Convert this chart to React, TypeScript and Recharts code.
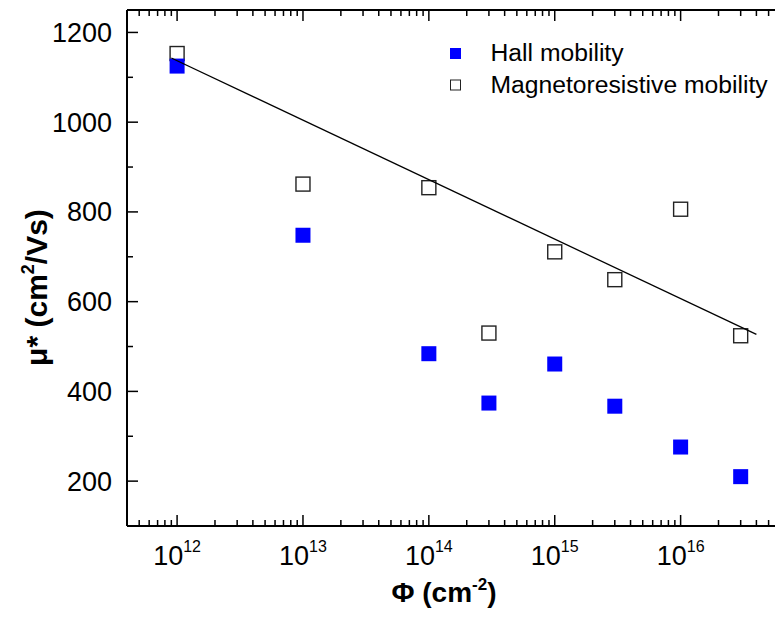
import React from 'react';
import { ScatterChart, Scatter, XAxis, YAxis, Legend, Label } from 'recharts';

const FONT = '"Liberation Sans", Arial, Helvetica, sans-serif';

// Fluence values (cm^-2)
const FLUENCE = [1e12, 1e13, 1e14, 3e14, 1e15, 3e15, 1e16, 3e16];
// Hall mobility (cm^2/Vs)
const HALL_MU = [1125, 748, 484, 374, 461, 367, 276, 210];
// Magnetoresistive mobility (cm^2/Vs)
const MR_MU = [1153, 862, 854, 530, 711, 649, 806, 524];
// Linear fit (in log x) through magnetoresistive mobility
const FIT_X = [9e11, 4e16];
const FIT_MU = [1143, 527];

const SERIES_NAMES = ['Hall mobility', 'Magnetoresistive mobility'];

const X_DOMAIN = [4e11, 7e16];
const Y_DOMAIN = [100, 1250];
const X_MAJOR = [1e12, 1e13, 1e14, 1e15, 1e16];
const X_MINOR_MULT = [2, 3, 4, 5, 6, 7, 8, 9];
const X_MINOR_LEAD = [5e11, 6e11, 7e11, 8e11, 9e11];
const X_MINOR_TAIL = [2e16, 3e16, 4e16, 5e16, 6e16];
const Y_MAJOR = [200, 400, 600, 800, 1000, 1200];
const Y_MINOR = [300, 500, 700, 900, 1100];

const X_TICKS: number[] = [
  ...X_MINOR_LEAD,
  ...X_MAJOR,
  ...X_MAJOR.slice(0, 4).flatMap((d) => X_MINOR_MULT.map((m) => m * d)),
  ...X_MINOR_TAIL,
].sort((a, b) => a - b);
const Y_TICKS: number[] = [...Y_MAJOR, ...Y_MINOR].sort((a, b) => a - b);

const hallData = FLUENCE.map((x, i) => ({ x, y: HALL_MU[i] }));
const mrData = FLUENCE.map((x, i) => ({ x, y: MR_MU[i] }));
const fitData = FIT_X.map((x, i) => ({ x, y: FIT_MU[i] }));

const isMajorX = (v: number) => X_MAJOR.some((m) => Math.abs(v - m) / m < 1e-9);
const isMajorY = (v: number) => Y_MAJOR.includes(v);

const TICK_W = 1.5;
const MAJOR_LEN = 11;
const MINOR_LEN = 6;

const BottomTick = (props: any) => {
  const { x, y, payload } = props;
  const v = payload.value;
  const major = isMajorX(v);
  const len = major ? MAJOR_LEN : MINOR_LEN;
  const exp = Math.round(Math.log10(v));
  return (
    <g>
      <line x1={x} y1={y} x2={x} y2={y - len} stroke="#000" strokeWidth={TICK_W} />
      {major && (
        <text x={x} y={y + 39} textAnchor="middle" fontFamily={FONT} fontSize={27} fill="#000">
          <tspan>10</tspan>
          <tspan dy={-13} fontSize={16}>{exp}</tspan>
        </text>
      )}
    </g>
  );
};

const TopTick = (props: any) => {
  const { x, y, payload } = props;
  const len = isMajorX(payload.value) ? MAJOR_LEN : MINOR_LEN;
  return <line x1={x} y1={y} x2={x} y2={y + len} stroke="#000" strokeWidth={TICK_W} />;
};

const LeftTick = (props: any) => {
  const { x, y, payload } = props;
  const major = isMajorY(payload.value);
  const len = major ? MAJOR_LEN : MINOR_LEN;
  return (
    <g>
      <line x1={x} y1={y} x2={x + len} y2={y} stroke="#000" strokeWidth={TICK_W} />
      {major && (
        <text x={x - 15} y={y} dy="0.35em" textAnchor="end" fontFamily={FONT} fontSize={27} fill="#000">
          {payload.value}
        </text>
      )}
    </g>
  );
};

const RightTick = (props: any) => {
  const { x, y, payload } = props;
  const len = isMajorY(payload.value) ? MAJOR_LEN : MINOR_LEN;
  return <line x1={x} y1={y} x2={x - len} y2={y} stroke="#000" strokeWidth={TICK_W} />;
};

const FilledSquare = (props: any) => {
  const { cx, cy } = props;
  if (cx == null || cy == null) return <g />;
  const s = 15;
  return <rect x={cx - s / 2} y={cy - s / 2} width={s} height={s} fill="#0000FF" />;
};

const OpenSquare = (props: any) => {
  const { cx, cy } = props;
  if (cx == null || cy == null) return <g />;
  const s = 14;
  return (
    <rect x={cx - s / 2} y={cy - s / 2} width={s} height={s} fill="#fff" stroke="#222" strokeWidth={1.4} />
  );
};

const NoShape = () => <g />;

const XTitle = (props: any) => {
  const vb = props.viewBox || { x: 0, y: 0, width: 0, height: 0 };
  return (
    <text
      x={vb.x + vb.width / 2 - 13}
      y={vb.y + 76}
      textAnchor="middle"
      fontFamily={FONT}
      fontWeight="bold"
      fontSize={28}
      fill="#000"
    >
      <tspan>Φ (cm</tspan>
      <tspan dy={-12} fontSize={17}>-2</tspan>
      <tspan dy={12}>)</tspan>
    </text>
  );
};

const YTitle = (props: any) => {
  const vb = props.viewBox || { x: 0, y: 0, width: 0, height: 0 };
  const cx = vb.x + 39;
  const cy = vb.y + vb.height / 2 + 19.5;
  return (
    <text
      x={cx}
      y={cy}
      transform={`rotate(-90, ${cx}, ${cy})`}
      textAnchor="middle"
      fontFamily={FONT}
      fontWeight="bold"
      fontSize={30}
      fill="#000"
    >
      <tspan>μ* (cm</tspan>
      <tspan dy={-13} fontSize={18}>2</tspan>
      <tspan dy={13}>/Vs)</tspan>
    </text>
  );
};

const LegendContent = (props: any) => {
  const payload = (props.payload || []).filter((p: any) => SERIES_NAMES.includes(p.value));
  const names = payload.length ? payload.map((p: any) => p.value) : SERIES_NAMES;
  return (
    <svg width={340} height={70} style={{ display: 'block' }}>
      {names.map((name: string, i: number) => {
        const rowY = 15.5 + i * 31.5;
        const hall = name === SERIES_NAMES[0];
        return (
          <g key={name}>
            {hall ? (
              <rect x={2} y={rowY - 5.5} width={11} height={11} fill="#0000FF" />
            ) : (
              <rect x={2.5} y={rowY - 5} width={10} height={10} fill="#fff" stroke="#222" strokeWidth={1} />
            )}
            <text x={42.5} y={rowY + 7.5} fontFamily={FONT} fontSize={24.7} fill="#000">
              {name}
            </text>
          </g>
        );
      })}
    </svg>
  );
};

export default function App() {
  return (
    <div style={{ width: 775, height: 614, overflow: 'hidden', fontFamily: FONT }}>
      <ScatterChart width={790} height={614} margin={{ top: 0, right: 0, bottom: 0, left: 0 }}>
        <XAxis
          xAxisId="bottom"
          dataKey="x"
          type="number"
          scale="log"
          domain={X_DOMAIN}
          allowDataOverflow
          ticks={X_TICKS}
          interval={0}
          orientation="bottom"
          height={96}
          tickSize={0}
          tickMargin={0}
          tickLine={false}
          axisLine={{ stroke: '#000', strokeWidth: 2 }}
          tick={<BottomTick />}
        >
          <Label content={<XTitle />} />
        </XAxis>
        <XAxis
          xAxisId="top"
          dataKey="x"
          type="number"
          scale="log"
          domain={X_DOMAIN}
          allowDataOverflow
          ticks={X_TICKS}
          interval={0}
          orientation="top"
          height={2}
          tickSize={0}
          tickMargin={0}
          tickLine={false}
          axisLine={{ stroke: '#000', strokeWidth: 2 }}
          tick={<TopTick />}
        />
        <YAxis
          yAxisId="left"
          dataKey="y"
          type="number"
          domain={Y_DOMAIN}
          allowDataOverflow
          ticks={Y_TICKS}
          interval={0}
          orientation="left"
          width={119}
          tickSize={0}
          tickMargin={0}
          tickLine={false}
          axisLine={{ stroke: '#000', strokeWidth: 2 }}
          tick={<LeftTick />}
        >
          <Label content={<YTitle />} />
        </YAxis>
        <YAxis
          yAxisId="right"
          dataKey="y"
          type="number"
          domain={Y_DOMAIN}
          allowDataOverflow
          ticks={Y_TICKS}
          interval={0}
          orientation="right"
          width={11}
          tickSize={0}
          tickMargin={0}
          tickLine={false}
          axisLine={{ stroke: '#000', strokeWidth: 2 }}
          tick={<RightTick />}
        />
        <Legend
          layout="vertical"
          align="center"
          verticalAlign="middle"
          content={<LegendContent />}
          wrapperStyle={{ position: 'absolute', left: 440, top: 30, width: 340, height: 70 }}
        />
        <Scatter
          name={SERIES_NAMES[1]}
          data={mrData}
          xAxisId="bottom"
          yAxisId="left"
          shape={<OpenSquare />}
          isAnimationActive={false}
        />
        <Scatter
          name={SERIES_NAMES[0]}
          data={hallData}
          xAxisId="bottom"
          yAxisId="left"
          shape={<FilledSquare />}
          isAnimationActive={false}
        />
        <Scatter
          name="fit"
          data={fitData}
          xAxisId="bottom"
          yAxisId="left"
          line={{ stroke: '#000', strokeWidth: 1.3 }}
          shape={<NoShape />}
          legendType="none"
          isAnimationActive={false}
        />
      </ScatterChart>
    </div>
  );
}
